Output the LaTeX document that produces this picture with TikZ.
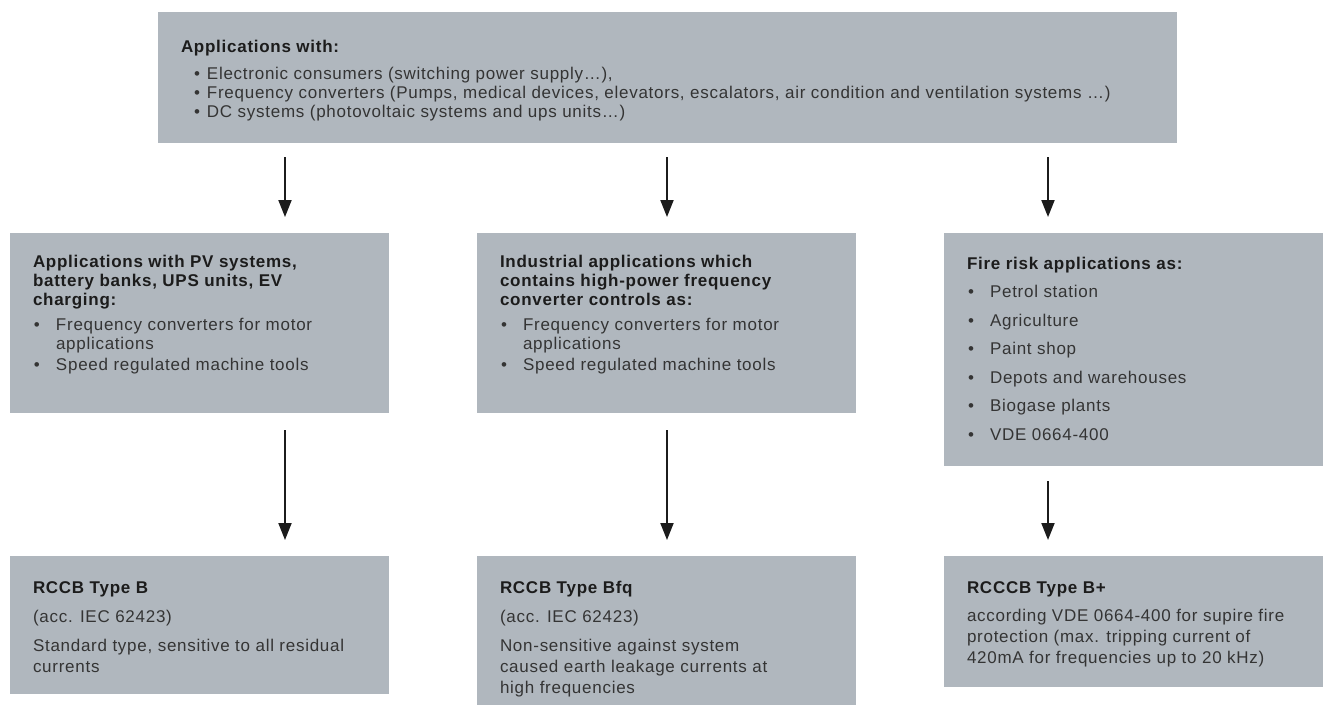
\documentclass[tikz,border=0pt]{standalone}
\usepackage{fontspec}
\setmainfont{Liberation Sans}[LetterSpace=4.3]
\usetikzlibrary{arrows.meta}

\definecolor{boxgray}{RGB}{176,183,190}
\definecolor{ink}{RGB}{52,52,52}
\definecolor{headink}{RGB}{28,28,28}

% bullet item with hanging indent; offset and width set per panel
\newlength\bulx
\newlength\bulw
\newcommand\bitem[1]{\par\hangindent=\bulw\hangafter=1\makebox[\bulw][l]{\hspace{\bulx}\textbullet}#1}
% \leavevmode keeps the colour special inside the first line, so the
% parbox baseline is the baseline of the heading
\newcommand\btitle[1]{\leavevmode{\bfseries\color{headink}#1}}

\tikzset{
  panel/.style={fill=boxgray, draw=none, inner sep=0pt, outer sep=0pt, anchor=north west},
  body/.style={anchor=base west, inner sep=0pt, outer sep=0pt, text=ink},
  flow/.style={draw=headink, line width=2pt, -{Triangle[width=13pt,length=17pt]}},
}

\begin{document}
\begin{tikzpicture}[x=1pt,y=-1pt]
\useasboundingbox (0,0) rectangle (1326,705);

% panels
\node[panel, minimum width=1019pt, minimum height=131pt] (top) at (158,12) {};
\node[panel, minimum width=379pt, minimum height=180pt] (m1) at (10,233) {};
\node[panel, minimum width=379pt, minimum height=180pt] (m2) at (477,233) {};
\node[panel, minimum width=379pt, minimum height=233pt] (m3) at (944,233) {};
\node[panel, minimum width=379pt, minimum height=138pt] (b1) at (10,556) {};
\node[panel, minimum width=379pt, minimum height=149pt] (b2) at (477,556) {};
\node[panel, minimum width=379pt, minimum height=131pt] (b3) at (944,556) {};

% panel texts
\node[body] (ttop) at (181,52) {\parbox[t]{980pt}{\fontsize{17}{19}\selectfont
  \setlength\bulx{13pt}\setlength\bulw{26pt}\parskip=0pt
  \btitle{Applications with:}\par\vskip 8pt
  \bitem{Electronic consumers (switching power supply\ldots),}
  \bitem{Frequency converters (Pumps, medical devices, elevators, escalators, air condition and ventilation systems \ldots)}
  \bitem{DC systems (photovoltaic systems and ups units\ldots)}}};

\node[body] (tm1) at (33,267) {\parbox[t]{340pt}{\fontsize{17}{19}\selectfont
  \setlength\bulx{1pt}\setlength\bulw{23pt}\parskip=0pt
  \btitle{Applications with PV systems,\\battery banks, UPS units, EV\\charging:}\par\vskip 6pt
  \bitem{Frequency converters for motor\\applications}\par\vskip 2pt
  \bitem{Speed regulated machine tools}}};

\node[body] (tm2) at (500,267) {\parbox[t]{340pt}{\fontsize{17}{19}\selectfont
  \setlength\bulx{1pt}\setlength\bulw{23pt}\parskip=0pt
  \btitle{Industrial applications which\\contains high-power frequency\\converter controls as:}\par\vskip 6pt
  \bitem{Frequency converters for motor\\applications}\par\vskip 2pt
  \bitem{Speed regulated machine tools}}};

\node[body] (tm3) at (967,269) {\parbox[t]{340pt}{\fontsize{17}{19}\selectfont
  \setlength\bulx{1pt}\setlength\bulw{23pt}\parskip=9.5pt
  \btitle{Fire risk applications as:}
  \bitem{Petrol station}
  \bitem{Agriculture}
  \bitem{Paint shop}
  \bitem{Depots and warehouses}
  \bitem{Biogase plants}
  \bitem{VDE 0664-400}}};

\node[body] (tb1) at (33,593) {\parbox[t]{340pt}{\fontsize{17}{21}\selectfont\parskip=8pt
  \btitle{RCCB Type B}\par
  (acc. IEC 62423)\par
  Standard type, sensitive to all residual\\currents}};

\node[body] (tb2) at (500,593) {\parbox[t]{340pt}{\fontsize{17}{21}\selectfont\parskip=8pt
  \btitle{RCCB Type Bfq}\par
  (acc. IEC 62423)\par
  Non-sensitive against system\\caused earth leakage currents at\\high frequencies}};

\node[body] (tb3) at (967,593) {\parbox[t]{345pt}{\fontsize{17}{21}\selectfont\parskip=7pt
  \btitle{RCCCB Type B+}\par
  according VDE 0664-400 for supire fire\\protection (max. tripping current of\\420mA for frequencies up to 20 kHz)}};

% arrow columns
\coordinate (c1) at (285,0);
\coordinate (c2) at (667,0);
\coordinate (c3) at (1048,0);

\draw[flow, shorten <=14pt, shorten >=16pt] (top.south -| c1) -- (m1.north -| c1);
\draw[flow, shorten <=14pt, shorten >=16pt] (top.south -| c2) -- (m2.north -| c2);
\draw[flow, shorten <=14pt, shorten >=16pt] (top.south -| c3) -- (m3.north -| c3);

\draw[flow, shorten <=17pt, shorten >=16pt] (m1.south -| c1) -- (b1.north -| c1);
\draw[flow, shorten <=17pt, shorten >=16pt] (m2.south -| c2) -- (b2.north -| c2);
\draw[flow, shorten <=15pt, shorten >=16pt] (m3.south -| c3) -- (b3.north -| c3);
\end{tikzpicture}
\end{document}
